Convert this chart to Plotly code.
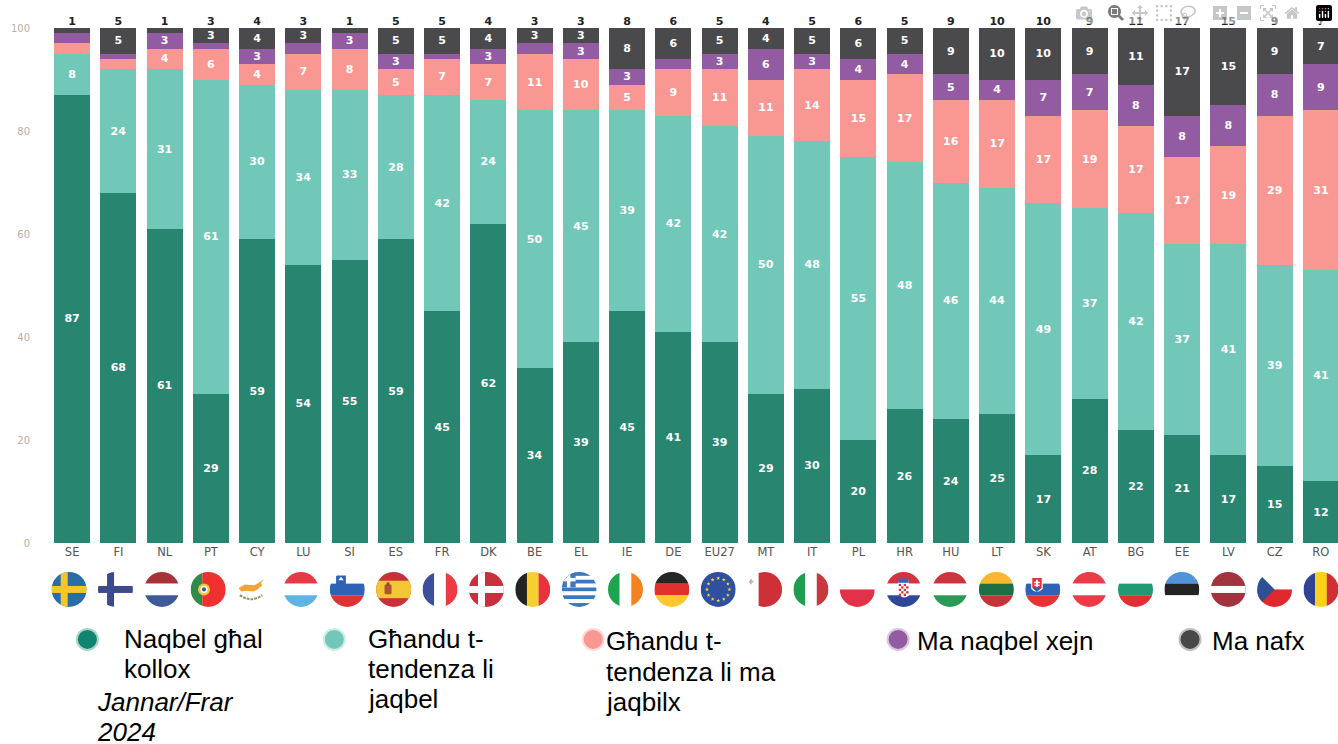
import base64
import math
import plotly.graph_objects as go

countries = ["SE","FI","NL","PT","CY","LU","SI","ES","FR","DK","BE","EL","IE","DE","EU27","MT","IT","PL","HR","HU","LT","SK","AT","BG","EE","LV","CZ","RO"]
accept_all = [87,68,61,29,59,54,55,59,45,62,34,39,45,41,39,29,30,20,26,24,25,17,28,22,21,17,15,12]
tend_accept = [8,24,31,61,30,34,33,28,42,24,50,45,39,42,42,50,48,55,48,46,44,49,37,42,37,41,39,41]
tend_reject = [2,2,4,6,4,7,8,5,7,7,11,10,5,9,11,11,14,15,17,16,17,17,19,17,17,19,29,31]
reject_all = [2,1,3,1,3,2,3,3,1,3,2,3,3,2,3,6,3,4,4,5,4,7,7,8,8,8,8,9]
dont_know = [1,5,1,3,4,3,1,5,5,4,3,3,8,6,5,4,5,6,5,9,10,10,9,11,17,15,9,7]

series = [
    ("Naqbel għal kollox", accept_all, "#288570"),
    ("Għandu t-tendenza li jaqbel", tend_accept, "#72C8B8"),
    ("Għandu t-tendenza li ma jaqbilx", tend_reject, "#F99793"),
    ("Ma naqbel xejn", reject_all, "#935CA2"),
    ("Ma nafx", dont_know, "#4A4A4C"),
]

W, H = 1338, 744
L, T, B = 48.6, 28, 543.5
def px(x): return (x - L) / (W - L)
def py(y): return (B - y) / (B - T)

fig = go.Figure()
for name, vals, col in series:
    fig.add_trace(go.Bar(
        x=countries, y=vals, name=name, marker=dict(color=col, line_width=0),
        text=[str(v) if v >= 3 else "" for v in vals],
        textposition="inside", insidetextanchor="middle", textangle=0,
        constraintext="none",
        insidetextfont=dict(family="DejaVu Sans", size=11, color="white", weight="bold"),
        showlegend=False, hoverinfo="skip",
    ))
fig.add_trace(go.Scatter(
    x=countries, y=[100]*len(countries), mode="text",
    text=[str(v) for v in dont_know], textposition="top center",
    textfont=dict(family="DejaVu Sans", size=11, color="#222222", weight="bold"),
    cliponaxis=False, showlegend=False, hoverinfo="skip",
))

# ---- flags -----------------------------------------------------------
def hs(*c):
    n = len(c); out = ""
    for i, col in enumerate(c):
        out += f'<rect x="0" y="{i*100/n}" width="100" height="{100/n+0.3}" fill="{col}"/>'
    return out
def vs(*c):
    n = len(c); out = ""
    for i, col in enumerate(c):
        out += f'<rect x="{i*100/n}" y="0" width="{100/n+0.3}" height="100" fill="{col}"/>'
    return out
def cross(bg, fg):
    return (f'<rect width="100" height="100" fill="{bg}"/>'
            f'<rect x="26" width="20" height="100" fill="{fg}"/>'
            f'<rect y="40" width="100" height="20" fill="{fg}"/>')
def star(cx, cy, r, col):
    pts = []
    for k in range(10):
        a = -math.pi/2 + k*math.pi/5
        rr = r if k % 2 == 0 else r*0.4
        pts.append(f"{cx+rr*math.cos(a):.1f},{cy+rr*math.sin(a):.1f}")
    return f'<polygon points="{" ".join(pts)}" fill="{col}"/>'

W_ = "#ffffff"
eu = '<rect width="100" height="100" fill="#2F4FA0"/>' + "".join(
    star(50+32*math.cos(k*math.pi/6), 50+32*math.sin(k*math.pi/6), 6, "#F5D33A") for k in range(12))
el = hs("#3C78BE",W_,"#3C78BE",W_,"#3C78BE",W_,"#3C78BE",W_,"#3C78BE") + \
     '<rect width="40" height="44" fill="#3C78BE"/><rect x="15" width="10" height="44" fill="#fff"/><rect y="17" width="40" height="10" fill="#fff"/>'
hr_check = "".join(
    f'<rect x="{36+r*7}" y="{34+c*7}" width="7" height="7" fill="{"#D7333C" if (r+c)%2==0 else "#fff"}"/>'
    for r in range(4) for c in range(5))
flags = {
 "SE": cross("#2A6CA8","#F3C72C"),
 "FI": cross(W_,"#3B4A8C"),
 "NL": hs("#A8323A",W_,"#3E5A9A"),
 "PT": vs("#2E8B4A","#EE3030","#EE3030").replace('x="0" y="0" width="33.63"','x="0" y="0" width="40"')
       + '<circle cx="38" cy="50" r="17" fill="#F1C73C"/><circle cx="38" cy="50" r="10" fill="#fff"/><circle cx="38" cy="50" r="6" fill="#3E5A9A"/>',
 "CY": f'<rect width="100" height="100" fill="{W_}"/>'
       '<path d="M4 46 L22 36 L48 38 L60 32 L78 20 L68 32 L72 38 L58 50 L46 56 L28 54 L12 56 Z" fill="#F0A53A"/>'
       '<path d="M8 66 Q40 90 72 66" fill="none" stroke="#8E9A63" stroke-width="6" stroke-dasharray="8 3"/>',
 "LU": hs("#E63946",W_,"#5FB4E6"),
 "SI": hs(W_,"#2E62B4","#E03234") + '<path d="M18 10 H46 V34 Q32 46 18 34 Z" fill="#2E62B4"/><path d="M24 24 L32 14 L40 24 Z" fill="#fff"/>',
 "ES": '<rect width="100" height="100" fill="#C9303A"/><rect y="25" width="100" height="50" fill="#F4C534"/>'
       '<rect x="24" y="36" width="20" height="28" rx="4" fill="#B5503A"/><rect x="30" y="30" width="8" height="8" fill="#A3342E"/>',
 "FR": vs("#3C4F9C",W_,"#EE3B43"),
 "DK": cross("#C8303E",W_),
 "BE": vs("#232323","#F5D02F","#E8323E"),
 "EL": el,
 "IE": vs("#1FA34E",W_,"#F58220"),
 "DE": hs("#262626","#E0312E","#FDC82F"),
 "EU27": eu,
 "MT": vs(W_,W_,"#CF3038").replace('x="66.66666666666667"','x="33"').replace('width="33.63333333333333" height="100" fill="#CF3038"','width="67" height="100" fill="#CF3038"')
       + '<rect x="8" y="20" width="5" height="15" fill="#B9AEB0"/><rect x="3" y="25" width="15" height="5" fill="#B9AEB0"/>',
 "IT": vs("#1F9E4F",W_,"#C8383E"),
 "PL": hs(W_,"#E2324A"),
 "HR": hs("#D7333C",W_,"#2E4796") + '<path d="M34 22 H64 V68 Q49 80 34 62 Z" fill="#fff"/>' + hr_check
       + '<rect x="34" y="19" width="30" height="12" fill="#3F62B4"/>',
 "HU": hs("#CC333D",W_,"#2B9A56"),
 "LT": hs("#F8B72C","#1E6F45","#C6343B"),
 "SK": hs(W_,"#2E62B4","#E83234") + '<path d="M17 14 H50 V48 Q33 66 17 48 Z" fill="#fff"/><path d="M20 17 H47 V46 Q33 61 20 46 Z" fill="#E0323C"/><rect x="31" y="22" width="5" height="26" fill="#fff"/><rect x="25" y="28" width="17" height="4" fill="#fff"/><rect x="26" y="36" width="15" height="4" fill="#fff"/><path d="M24 47 Q33 38 43 47 L33 58 Z" fill="#2E62B4"/>',
 "AT": hs("#EE3A47",W_,"#EE3A47"),
 "BG": hs(W_,"#1F9A73","#E03034"),
 "EE": hs("#4F93D8","#232323",W_),
 "LV": '<rect width="100" height="100" fill="#A1343F"/><rect y="40" width="100" height="20" fill="#fff"/>',
 "CZ": hs(W_,"#E0282E") + '<path d="M0 0 L50 50 L0 100 Z" fill="#2E4F96"/>',
 "RO": vs("#2F4390","#FCD116","#CF2F35"),
}

images = []
for i, c in enumerate(countries):
    svg = (f'<svg xmlns="http://www.w3.org/2000/svg" width="100" height="100" viewBox="0 0 100 100">'
           f'<defs><clipPath id="c{i}"><circle cx="50" cy="50" r="50"/></clipPath></defs>'
           f'<g clip-path="url(#c{i})">{flags[c]}</g></svg>')
    uri = "data:image/svg+xml;base64," + base64.b64encode(svg.encode()).decode()
    images.append(dict(source=uri, xref="paper", yref="paper",
                       x=px(68.7 + i*46.38), y=py(590),
                       sizex=35/(W-L), sizey=35/(B-T),
                       xanchor="center", yanchor="middle", sizing="stretch", layer="above"))

# ---- hand-placed legend ------------------------------------------------
legend_dots = [(87,640,"#0F8570"),(334,640,"#72C8B8"),(593,640,"#F99793"),(898,640,"#935CA2"),(1190,640,"#48484A")]
shapes = []
for x, y, col in legend_dots:
    for r, op in ((11.5,0.35),(9.5,1)):
        shapes.append(dict(type="circle", xref="paper", yref="paper",
                           x0=px(x-r), x1=px(x+r), y0=py(y-r), y1=py(y+r),
                           fillcolor=col, opacity=op, line_width=0))
legend_lines = [
    (122,640,"Naqbel għal",False),(122,670,"kollox",False),
    (95,703,"Jannar/Frar",True),(95,733,"2024",True),
    (366,640,"Għandu t-",False),(366,670,"tendenza li",False),(366,700,"jaqbel",False),
    (604,642,"Għandu t-",False),(604,673,"tendenza li ma",False),(604,703,"jaqbilx",False),
    (915,642,"Ma naqbel xejn",False),(1210,642,"Ma nafx",False),
]
annotations = [dict(xref="paper", yref="paper", x=px(x), y=py(y), xanchor="left", yanchor="middle",
                    showarrow=False, text=f"<i>{t}</i>" if it else t,
                    font=dict(family="Liberation Sans", size=26, color="#000000"))
               for x, y, t, it in legend_lines]

fig.update_layout(
    barmode="stack", bargap=0.222, width=W, height=H,
    margin=dict(l=L, r=0, t=T, b=H-B, pad=0),
    plot_bgcolor="white", paper_bgcolor="white",
    images=images, shapes=shapes, annotations=annotations, showlegend=False,
    xaxis=dict(type="category", categoryorder="array", categoryarray=countries,
               range=[-0.5, 27.37], showgrid=False, zeroline=False, showline=False, ticks="",
               tickangle=0,
               tickfont=dict(family="DejaVu Sans", size=11.5, color="#555555")),
    yaxis=dict(range=[0, 100], tickvals=[0,20,40,60,80,100], showgrid=False, zeroline=False,
               showline=False, ticks="", ticklabelstandoff=18,
               tickfont=dict(family="DejaVu Sans", size=10, color="#B5B0AA")),
)
fig.write_html("out.html", post_script="document.body.style.margin='0';")
